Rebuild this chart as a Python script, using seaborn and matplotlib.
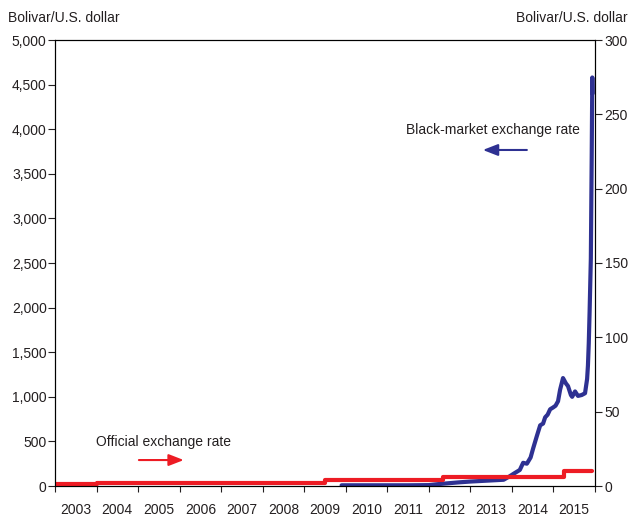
import numpy as np
import pandas as pd
import matplotlib
matplotlib.use("Agg")
import matplotlib.pyplot as plt
from matplotlib import ticker
import seaborn as sns

# Datos leidos del grafico
# tasa del mercado negro (eje izquierdo)
fechas_negro = [2009.90, 2010.50, 2011.00, 2011.50, 2012.00, 2012.20, 2012.70, 2013.00,
                2013.40, 2013.80, 2013.95, 2014.05, 2014.19, 2014.27, 2014.36, 2014.45,
                2014.51, 2014.60, 2014.68, 2014.75, 2014.80, 2014.86, 2014.92, 2014.99,
                2015.05, 2015.11, 2015.16, 2015.23, 2015.30, 2015.35, 2015.42, 2015.45,
                2015.52, 2015.59, 2015.68, 2015.76, 2015.81, 2015.83, 2015.85, 2015.87,
                2015.90, 2015.92, 2015.935, 2015.94]
valores_negro = [8, 8, 8, 8, 10, 20, 40, 50,
                 60, 70, 110, 140, 180, 260, 250, 320,
                 420, 560, 680, 700, 770, 800, 860, 880,
                 900, 950, 1080, 1210, 1150, 1120, 1020, 1000,
                 1060, 1010, 1020, 1040, 1200, 1350, 1600, 1950,
                 2550, 3650, 4580, 4400]

# tasa oficial (eje derecho)
fechas_oficial = [2003.00, 2004.00, 2009.50, 2012.34, 2015.25, 2015.92]
valores_oficial = [1.6, 1.9, 4.3, 6.3, 10.0, 10.0]

anios = list(range(2003, 2016))

AZUL = "#2E3192"
ROJO = "#ED1C24"
TEXTO = "#231F20"

sns.set_style("ticks")
plt.rcParams['font.family'] = ['Liberation Sans', 'DejaVu Sans']
plt.rcParams['axes.linewidth'] = 0.8
plt.rcParams['text.color'] = TEXTO
plt.rcParams['xtick.color'] = TEXTO
plt.rcParams['ytick.color'] = TEXTO

df_negro = pd.DataFrame({"fecha": fechas_negro, "valor": valores_negro})
df_oficial = pd.DataFrame({"fecha": fechas_oficial, "valor": valores_oficial})

fig = plt.figure(figsize=(6.31, 5.20), dpi=100)
ax = fig.add_axes([55/631, 1-486/520, 540/631, 446/520])
ax2 = ax.twinx()

sns.lineplot(data=df_negro, x="fecha", y="valor", ax=ax, color=AZUL, lw=3.0)
sns.lineplot(data=df_oficial, x="fecha", y="valor", ax=ax2, color=ROJO, lw=3.0,
             drawstyle="steps-post")

ax.set_xlim(2003, 2016)
ax.set_ylim(0, 5000)
ax2.set_ylim(0, 300)
ax.set_xlabel("")
ax.set_ylabel("")
ax2.set_ylabel("")

# eje x: marcas en el cambio de anio, etiquetas a mitad de anio
ax.xaxis.set_major_locator(ticker.FixedLocator(range(2003, 2017)))
ax.xaxis.set_major_formatter(ticker.NullFormatter())
ax.xaxis.set_minor_locator(ticker.FixedLocator([a + 0.5 for a in anios]))
ax.xaxis.set_minor_formatter(ticker.FixedFormatter([str(a) for a in anios]))
ax.tick_params(axis='x', which='major', direction='out', length=4.5, width=0.8)
ax.tick_params(axis='x', which='minor', length=0, pad=12, labelsize=10)

ax.yaxis.set_major_locator(ticker.MultipleLocator(500))
ax.yaxis.set_major_formatter(ticker.FuncFormatter(lambda v, p: f"{int(v):,}"))
ax.tick_params(axis='y', direction='out', length=5, width=0.8, pad=1, labelsize=10)

ax2.yaxis.set_major_locator(ticker.MultipleLocator(50))
ax2.tick_params(axis='y', direction='out', length=5, width=0.8, pad=2, labelsize=10)

for a in (ax, ax2):
    for s in a.spines.values():
        s.set_visible(True)
        s.set_color("black")
        s.set_linewidth(0.8)

# anotaciones
ax.text(2003.99, 493, "Official exchange rate", ha="left", va="center", fontsize=10)
ax.annotate("", xy=(2006.10, 291), xytext=(2005.02, 291),
            arrowprops=dict(arrowstyle="-|>,head_length=0.9,head_width=0.35",
                            color=ROJO, lw=1.5, mutation_scale=10, shrinkA=0, shrinkB=0))
ax.text(2015.64, 3991, "Black-market exchange rate", ha="right", va="center", fontsize=10)
ax.annotate("", xy=(2013.30, 3767), xytext=(2014.36, 3767),
            arrowprops=dict(arrowstyle="-|>,head_length=0.9,head_width=0.35",
                            color=AZUL, lw=1.5, mutation_scale=10, shrinkA=0, shrinkB=0))

fig.text(8/631, 1-18/520, "Bolivar/U.S. dollar", ha="left", va="center", fontsize=10)
fig.text(628/631, 1-18/520, "Bolivar/U.S. dollar", ha="right", va="center", fontsize=10)

fig.savefig("out.png", dpi=100)
